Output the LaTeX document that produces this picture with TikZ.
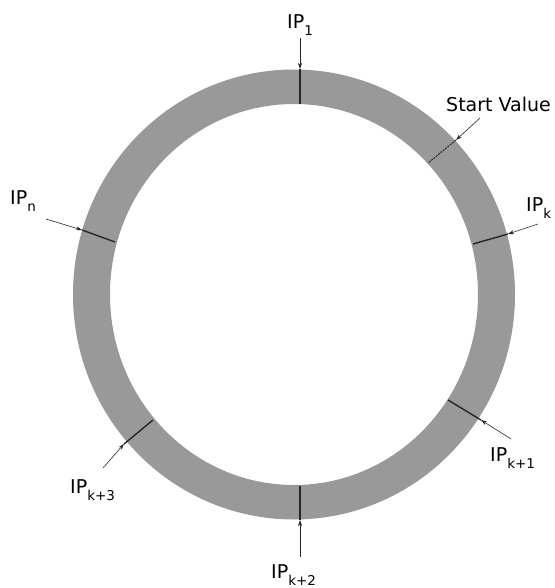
\documentclass[tikz,border=0pt]{standalone}
\usepackage{fontspec}
\setmainfont{DejaVu Sans}
\usetikzlibrary{arrows.meta}
\definecolor{ringgray}{RGB}{153,153,153}
\newcommand{\ipsub}[1]{\raisebox{-7pt}{\fontsize{13.5}{13.5}\selectfont #1}}

\begin{document}
\begin{tikzpicture}[x=1pt, y=-1pt, >={Stealth[length=6pt, width=4pt]},
    lbl/.style={anchor=base west, inner sep=0pt, font=\fontsize{19}{19}\selectfont},
    pin/.style={->, line width=0.6pt, black!85},
    ipline/.style={line width=1.4pt, black!85}]
    \useasboundingbox (0,0) rectangle (554,588);

    % 灰色圆环
    \fill[ringgray, even odd rule] (294,294.5) ellipse [x radius=221pt, y radius=225pt]
        (294,294.5) ellipse [x radius=184pt, y radius=190.5pt];

    % IP_1
    \node[lbl] (ip1) at (287,29) {IP\ipsub{1}};
    \coordinate (ip1s) at (300,38);
    \coordinate (ip1o) at (300,69);
    \coordinate (ip1i) at (300,104);
    \draw[pin] (ip1s) -- (ip1o);
    \draw[ipline] (ip1o) -- (ip1i);

    % 起始值 (虚线)
    \node[lbl] (start) at (446,112) {Start Value};
    \coordinate (sts) at (480,118);
    \coordinate (sto) at (456,140);
    \coordinate (sti) at (428,163);
    \draw[pin] (sts) -- (sto);
    \draw[dashed, line width=1pt, black!85, dash pattern=on 2pt off 1pt] (sto) -- (sti);

    % IP_k
    \node[lbl] (ipk) at (526,211) {IP\ipsub{k}};
    \coordinate (ipks) at (538,224);
    \coordinate (ipko) at (508,234);
    \coordinate (ipki) at (473,244);
    \draw[pin] (ipks) -- (ipko);
    \draw[ipline] (ipko) -- (ipki);

    % IP_n
    \node[lbl] (ipn) at (10,204) {IP\ipsub{n}};
    \coordinate (ipns) at (46,219);
    \coordinate (ipno) at (82,230);
    \coordinate (ipni) at (115,242);
    \draw[pin] (ipns) -- (ipno);
    \draw[ipline] (ipno) -- (ipni);

    % IP_{k+1}
    \node[lbl] (ipk1) at (490,461) {IP\ipsub{k+1}};
    \coordinate (ipk1s) at (511,439);
    \coordinate (ipk1o) at (481,420);
    \coordinate (ipk1i) at (448,400);
    \draw[pin] (ipk1s) -- (ipk1o);
    \draw[ipline] (ipk1o) -- (ipk1i);

    % IP_{k+3}
    \node[lbl] (ipk3) at (70,493) {IP\ipsub{k+3}};
    \coordinate (ipk3s) at (103,468);
    \coordinate (ipk3o) at (124,444);
    \coordinate (ipk3i) at (153,420);
    \draw[pin] (ipk3s) -- (ipk3o);
    \draw[ipline] (ipk3o) -- (ipk3i);

    % IP_{k+2}
    \node[lbl] (ipk2) at (271,578) {IP\ipsub{k+2}};
    \coordinate (ipk2s) at (300,557);
    \coordinate (ipk2o) at (300,520);
    \coordinate (ipk2i) at (300,486);
    \draw[pin] (ipk2s) -- (ipk2o);
    \draw[ipline] (ipk2o) -- (ipk2i);
\end{tikzpicture}
\end{document}
